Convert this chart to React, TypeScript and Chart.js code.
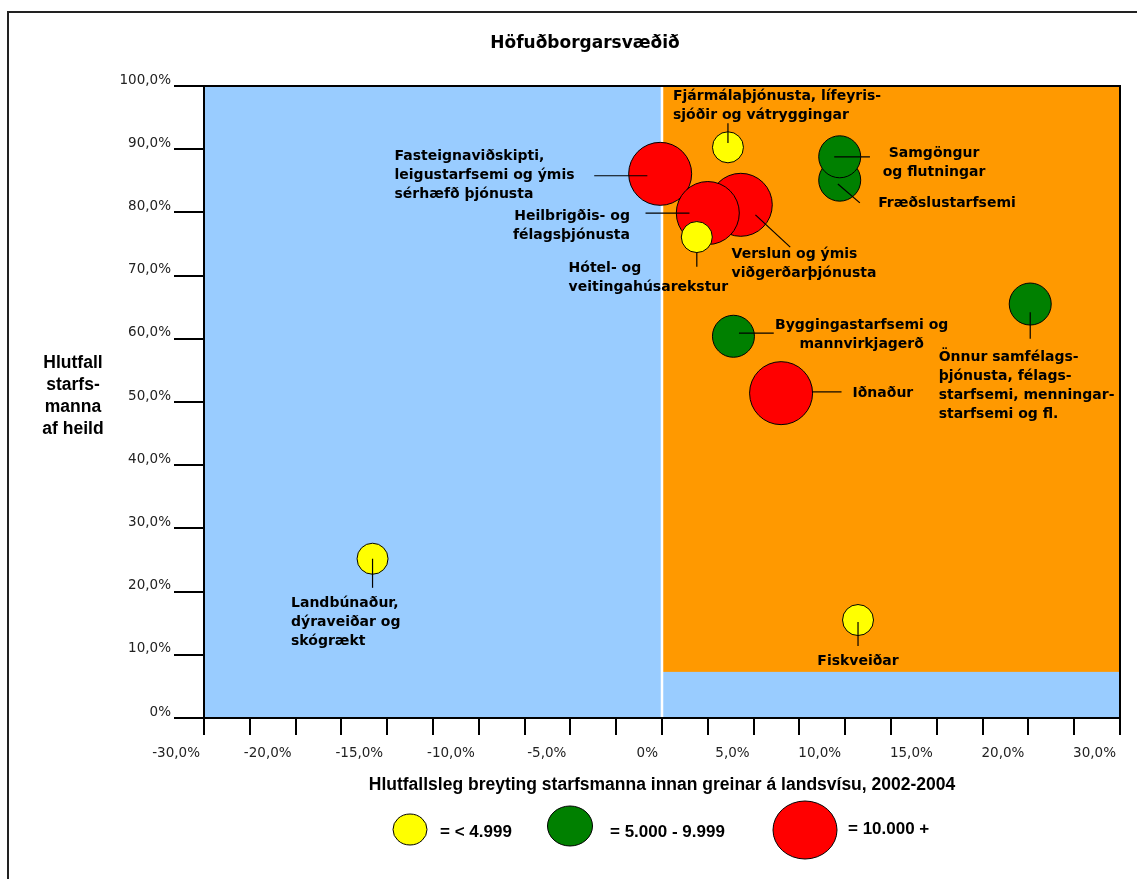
import { useEffect, useRef } from "react";
import { Chart, registerables } from "chart.js";

Chart.register(...registerables);

// ---------- data ----------
const chartTitle = "Höfuðborgarsvæðið";
const xAxisTitle = "Hlutfallsleg breyting starfsmanna innan greinar á landsvísu, 2002-2004";
const yAxisTitle = ["Hlutfall", "starfs-", "manna", "af heild"];

const sectors = [
  "Fjármálaþjónusta, lífeyris-\nsjóðir og vátryggingar",
  "Fasteignaviðskipti,\nleigustarfsemi og ýmis\nsérhæfð þjónusta",
  "Verslun og ýmis\nviðgerðarþjónusta",
  "Heilbrigðis- og\nfélagsþjónusta",
  "Hótel- og\nveitingahúsarekstur",
  "Fræðslustarfsemi",
  "Samgöngur\nog flutningar",
  "Byggingastarfsemi og\nmannvirkjagerð",
  "Iðnaður",
  "Önnur samfélags-\nþjónusta, félags-\nstarfsemi, menningar-\nstarfsemi og fl.",
  "Landbúnaður,\ndýraveiðar og\nskógrækt",
  "Fiskveiðar",
];
// relative change of employees nationally 2002-2004 (%)
const growth = [3.6, -0.1, 4.3, 2.5, 1.9, 9.7, 9.7, 3.9, 6.5, 20.1, -15.8, 10.7];
// share of employees in the capital region (%)
const share = [90.3, 86.1, 81.2, 79.9, 76.1, 85.1, 88.8, 60.4, 51.4, 65.5, 25.2, 15.5];
// employee count class: 0 = < 4.999, 1 = 5.000-9.999, 2 = 10.000 +
const sizeClass = [0, 2, 2, 2, 0, 1, 1, 1, 2, 1, 0, 0];
const classLabels = ["= < 4.999", "= 5.000 - 9.999", "= 10.000 +"];

// label anchors (data units)
const labelX = [0.6, -14.6, 3.8, -1.75, -5.1, 11.8, 14.85, 10.9, 10.4, 15.1, -20.25, 10.7];
const labelY = [98.3, 88.9, 73.4, 79.3, 71.2, 81.5, 89.4, 62.2, 51.4, 57.0, 18.2, 8.9];
const labelAlign: CanvasTextAlign[] = ["left", "left", "left", "right", "left", "left", "center", "center", "left", "left", "left", "center"];
// leader lines (data units)
const leaderX1 = [3.6, -3.7, 5.1, -0.9, 1.9, 9.6, 9.4, 4.2, 8.2, 20.1, -15.8, 10.7];
const leaderY1 = [94.1, 85.8, 79.6, 79.9, 73.7, 84.5, 88.8, 60.9, 51.6, 64.2, 25.2, 15.2];
const leaderX2 = [3.6, -0.8, 7.0, 1.5, 1.9, 10.8, 11.35, 6.1, 9.8, 20.1, -15.8, 10.7];
const leaderY2 = [91.0, 85.8, 74.5, 79.9, 71.4, 81.5, 88.8, 60.9, 51.6, 60.0, 20.6, 11.4];

const xTickLabels = ["-30,0%", "-20,0%", "-15,0%", "-10,0%", "-5,0%", "0%", "5,0%", "10,0%", "15,0%", "20,0%", "30,0%"];
const yTickLabels = ["0%", "10,0%", "20,0%", "30,0%", "40,0%", "50,0%", "60,0%", "70,0%", "80,0%", "90,0%", "100,0%"];

const quadrantX = 0;
const quadrantYMin = 7.3;

// ---------- styles ----------
const classColors = ["#FFFF00", "#008000", "#FF0000"];
const classRadius = [15.5, 21, 31.5];
const BLUE = "#99CCFF";
const ORANGE = "#FF9900";
const VERDANA = "'DejaVu Sans', Verdana, sans-serif";
const LABEL_FONT = `bold 14px ${VERDANA}`;
const ARIAL_BOLD = "bold 17.5px 'Liberation Sans', Arial, sans-serif";

const backgroundPlugin = {
  id: "quadrantBackground",
  beforeDraw(chart: any) {
    const { ctx, chartArea: a, scales } = chart;
    const x = scales.x;
    const y = scales.y;
    ctx.save();
    ctx.fillStyle = "#ffffff";
    ctx.fillRect(0, 0, chart.width, chart.height);
    // outer frame
    ctx.strokeStyle = "#222";
    ctx.lineWidth = 2;
    ctx.beginPath();
    ctx.moveTo(8, chart.height);
    ctx.lineTo(8, 12);
    ctx.lineTo(chart.width, 12);
    ctx.stroke();

    ctx.fillStyle = BLUE;
    ctx.fillRect(a.left, a.top, a.right - a.left, a.bottom - a.top);
    const x0 = x.getPixelForValue(quadrantX);
    const yb = y.getPixelForValue(quadrantYMin);
    ctx.fillStyle = ORANGE;
    ctx.fillRect(x0, a.top, a.right - x0, yb - a.top);
    ctx.strokeStyle = "#ffffff";
    ctx.lineWidth = 2.5;
    ctx.beginPath();
    ctx.moveTo(x0, a.top);
    ctx.lineTo(x0, a.bottom);
    ctx.stroke();
    ctx.restore();
  },
  beforeDatasetsDraw(chart: any) {
    const { ctx, chartArea: a } = chart;
    ctx.save();
    ctx.strokeStyle = "#000";
    ctx.lineWidth = 2;
    ctx.beginPath();
    ctx.moveTo(a.left, a.top);
    ctx.lineTo(a.right, a.top);
    ctx.lineTo(a.right, a.bottom);
    ctx.stroke();
    ctx.restore();
  },
};

const annotationPlugin = {
  id: "annotations",
  afterDatasetsDraw(chart: any) {
    const { ctx, scales } = chart;
    const x = scales.x;
    const y = scales.y;
    ctx.save();
    ctx.strokeStyle = "#000";
    ctx.lineWidth = 1.2;
    sectors.forEach((_, i) => {
      ctx.beginPath();
      ctx.moveTo(x.getPixelForValue(leaderX1[i]), y.getPixelForValue(leaderY1[i]));
      ctx.lineTo(x.getPixelForValue(leaderX2[i]), y.getPixelForValue(leaderY2[i]));
      ctx.stroke();
    });
    ctx.font = LABEL_FONT;
    ctx.fillStyle = "#000";
    ctx.textBaseline = "middle";
    sectors.forEach((name, i) => {
      ctx.textAlign = labelAlign[i];
      const px = x.getPixelForValue(labelX[i]);
      const py = y.getPixelForValue(labelY[i]);
      name.split("\n").forEach((line, j) => ctx.fillText(line, px, py + j * 19));
    });
    ctx.restore();
  },
  afterDraw(chart: any) {
    const { ctx, chartArea: a } = chart;
    ctx.save();
    ctx.fillStyle = "#000";
    ctx.textBaseline = "middle";
    // title
    ctx.textAlign = "center";
    ctx.font = `bold 17px ${VERDANA}`;
    ctx.fillText(chartTitle, 585, 44);
    // y axis title
    ctx.font = ARIAL_BOLD;
    yAxisTitle.forEach((line, j) => ctx.fillText(line, 73, 363 + j * 22));
    // x axis title
    ctx.fillText(xAxisTitle, (a.left + a.right) / 2, 785);
    // legend
    ctx.font = "bold 17px 'Liberation Sans', Arial, sans-serif";
    const ellipses = [
      { cx: 410, cy: 829.5, rx: 17, ry: 15.5, tx: 440, ty: 832 },
      { cx: 570, cy: 826, rx: 22.5, ry: 20, tx: 610, ty: 832 },
      { cx: 805, cy: 830, rx: 32, ry: 29, tx: 848, ty: 829 },
    ];
    ellipses.forEach((e, c) => {
      ctx.beginPath();
      ctx.ellipse(e.cx, e.cy, e.rx, e.ry, 0, 0, Math.PI * 2);
      ctx.fillStyle = classColors[c];
      ctx.fill();
      ctx.strokeStyle = "#000";
      ctx.lineWidth = 1;
      ctx.stroke();
      ctx.fillStyle = "#000";
      ctx.textAlign = "left";
      ctx.fillText(classLabels[c], e.tx, e.ty);
    });
    ctx.restore();
  },
};

export default function App() {
  const canvasRef = useRef<HTMLCanvasElement | null>(null);

  useEffect(() => {
    if (!canvasRef.current) return;
    // dataset 0 is drawn last (on top): small, medium, large
    const datasets = [0, 1, 2].map((c) => ({
      label: classLabels[c],
      data: sectors
        .map((_, i) => i)
        .filter((i) => sizeClass[i] === c)
        .map((i) => ({ x: growth[i], y: share[i], r: classRadius[c] })),
      backgroundColor: classColors[c],
      borderColor: "#000",
      borderWidth: 1,
    }));

    const chart = new Chart(canvasRef.current, {
      type: "bubble",
      data: { datasets },
      options: {
        animation: false,
        responsive: false,
        events: [],
        layout: { autoPadding: false, padding: { top: 86, right: 17, left: 0, bottom: 0 } },
        plugins: {
          legend: { display: false },
          tooltip: { enabled: false },
          title: { display: false },
        },
        scales: {
          x: {
            type: "linear",
            min: -25,
            max: 25,
            afterFit: (scale: any) => {
              scale.height = 161;
              scale.paddingLeft = 0;
              scale.paddingRight = 0;
            },
            ticks: {
              stepSize: 2.5,
              autoSkip: false,
              maxRotation: 0,
              minRotation: 0,
              align: "end",
              labelOffset: -4,
              padding: 10,
              color: "#222",
              font: { family: VERDANA, size: 13.5 },
              callback: (_v: any, i: number) => (i % 2 === 0 ? xTickLabels[i / 2] : ""),
            },
            grid: {
              drawOnChartArea: false,
              drawTicks: true,
              tickLength: 17,
              color: "#000",
              lineWidth: 2,
            },
            border: { display: true, color: "#000", width: 2 },
          },
          y: {
            type: "linear",
            min: 0,
            max: 100,
            afterFit: (scale: any) => {
              scale.width = 204;
              scale.paddingTop = 0;
              scale.paddingBottom = 0;
            },
            ticks: {
              stepSize: 10,
              padding: 3,
              labelOffset: -6,
              color: "#222",
              font: { family: VERDANA, size: 13.5 },
              callback: (_v: any, i: number) => yTickLabels[i],
            },
            grid: {
              drawOnChartArea: false,
              drawTicks: true,
              tickLength: 30,
              color: "#000",
              lineWidth: 2,
            },
            border: { display: true, color: "#000", width: 2 },
          },
        },
      },
      plugins: [backgroundPlugin, annotationPlugin],
    });
    return () => chart.destroy();
  }, []);

  return (
    <div style={{ position: "absolute", left: 0, top: 0, width: 1137, height: 879, background: "#fff" }}>
      <canvas ref={canvasRef} width={1137} height={879} style={{ display: "block", width: 1137, height: 879 }} />
    </div>
  );
}
